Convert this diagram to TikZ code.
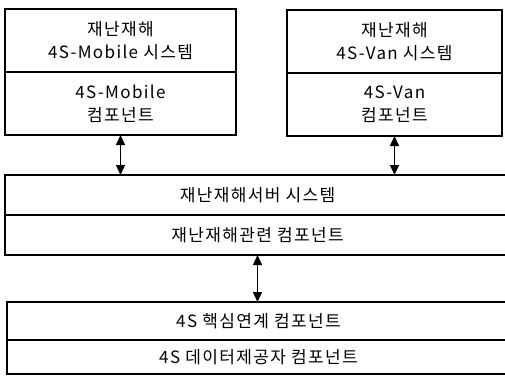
\documentclass[tikz,border=0pt]{standalone}
\usepackage{fontspec}
\setmainfont[LetterSpace=8]{Noto Sans CJK KR}
\usetikzlibrary{positioning}
\usetikzlibrary{arrows.meta}

\tikzset{
	part/.style={draw=black, line width=1.3pt, rectangle, outer sep=0pt, inner sep=0pt,
		align=center, font=\fontsize{17}{23}\selectfont},
	link/.style={line width=1.3pt, {Triangle[width=9pt,length=10pt]}-{Triangle[width=9pt,length=10pt]}}
}

\begin{document}
\begin{tikzpicture}[x=1pt,y=-1pt]
		\useasboundingbox (0,0) rectangle (505,375);
		
		%top left system
		\node[part, minimum width=231pt, minimum height=63pt, anchor=north west] (mobsys) at (5,9) {재난재해\\4S-Mobile 시스템};
		\node[part, minimum width=231pt, minimum height=63pt, below=0pt of mobsys] (mobcmp) {4S-Mobile\\컴포넌트};
		
		%top right system
		\node[part, minimum width=215pt, minimum height=63pt, anchor=north west] (vansys) at (287,10) {재난재해\\4S-Van 시스템};
		\node[part, minimum width=215pt, minimum height=63pt, below=0pt of vansys] (vancmp) {4S-Van\\컴포넌트};
		
		%server
		\node[part, minimum width=505pt, minimum height=40pt, anchor=north west] (srvsys) at (5,175) {재난재해서버 시스템};
		\node[part, minimum width=505pt, minimum height=40pt, below=0pt of srvsys] (srvcmp) {재난재해관련 컴포넌트};
		
		%4S core
		\node[part, minimum width=503pt, minimum height=38pt, anchor=north west] (coresys) at (7,302) {4S 핵심연계 컴포넌트};
		\node[part, minimum width=503pt, minimum height=34pt, below=0pt of coresys] (datacmp) {4S 데이터제공자 컴포넌트};
		
		%arrows
		\draw[link] (mobcmp.south) -- (mobcmp.south |- srvsys.north);
		\draw[link] (vancmp.south) -- (vancmp.south |- srvsys.north);
		\draw[link] (srvcmp.south) -- (srvcmp.south |- coresys.north);
	\end{tikzpicture}
\end{document}
